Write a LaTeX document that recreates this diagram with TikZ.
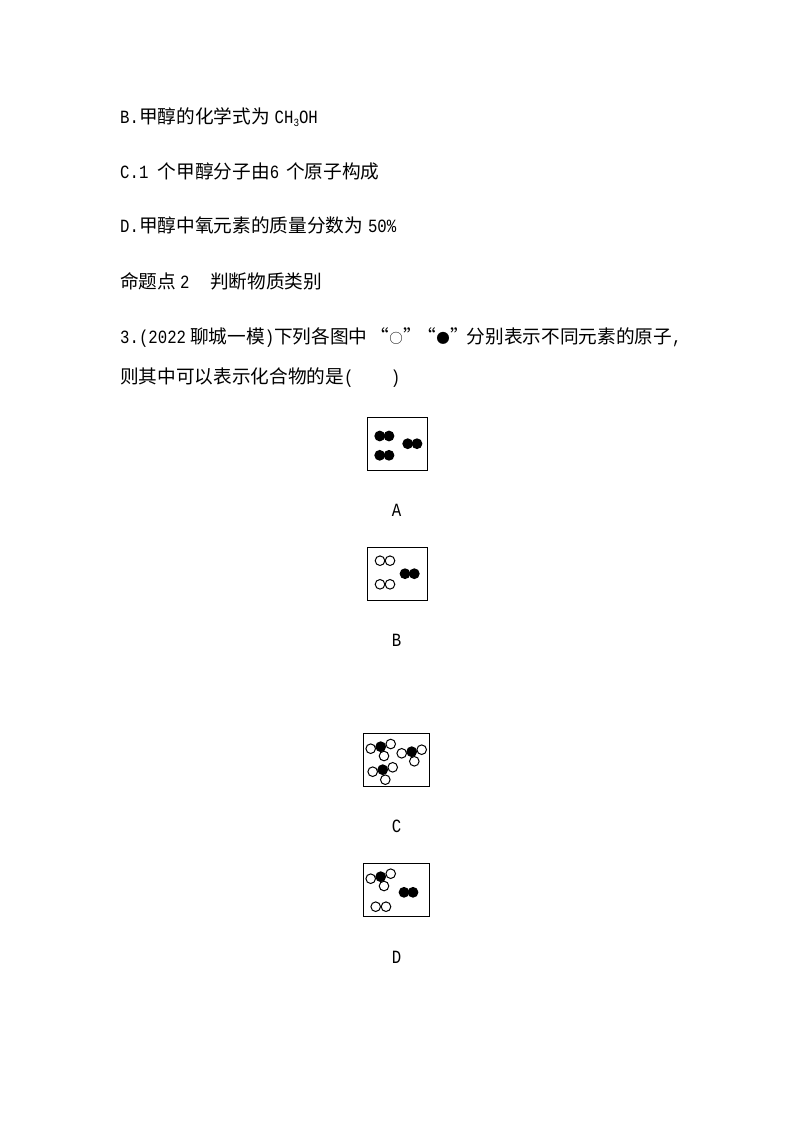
\documentclass[tikz,border=0pt]{standalone}
\usepackage{fontspec}
\setmainfont{Liberation Mono}[FakeStretch=0.84]
\newfontfamily\cjk{Noto Sans CJK SC}[Scale=1.0]
\newcommand{\zh}[1]{{\cjk #1}}
\newcommand{\subthree}{\raisebox{-2.5pt}{\fontsize{11}{11}\selectfont 3}}
\newcommand{\smallsign}[1]{\makebox[14pt]{\fontsize{13.5}{14}\cjk #1}}
\tikzset{
  textline/.style={anchor=base west,inner sep=0pt,font=\fontsize{18.67}{22}\selectfont},
  optlabel/.style={anchor=base,inner sep=0pt,font=\fontsize{18.67}{22}\selectfont},
  panel/.style={draw,line width=0.8pt,minimum height=53pt,inner sep=0pt},
  whiteatom/.style={circle,draw,fill=white,line width=1pt,minimum size=9.6pt,inner sep=0pt},
  blackatom/.style={circle,fill=black,minimum size=10.8pt,inner sep=0pt}
}
\begin{document}
\begin{tikzpicture}[x=1pt,y=-1pt]
\useasboundingbox (0,0) rectangle (794,1123);
% text lines
\node [textline] (lineB) at (120,124) {B.\zh{甲醇的化学式为}\hspace{5pt}CH\subthree OH};
\node [textline] (lineC) at (120,178.5) {C.1 \zh{个甲醇分子由}6\hspace{7pt}\zh{个原子构成}};
\node [textline] (lineD) at (120,233) {D.\zh{甲醇中氧元素的质量分数为}\hspace{5pt}50\%};
\node [textline] (lineHead) at (120,288) {\zh{命题点}\hspace{4pt}2\hspace{2pt}\zh{　判断物质类别}};
\node [textline] (lineQ) at (120,343) {3.(2022\hspace{4pt}\zh{聊城一模})\zh{下列各图中}\hspace{3pt}\zh{“}\smallsign{○}\zh{”}\hspace{-4.5pt}\zh{“}\smallsign{●}\zh{”}\hspace{-2pt}\zh{分别表示不同元素的原子},};
\node [textline] (lineQb) at (120,383) {\zh{则其中可以表示化合物的是}(\zh{　　})};
% panel A
\node [panel,minimum width=60pt] (boxA) at (397.3,443.8) {};
\node [blackatom] (a1) at (379.7,436) {};
\node [blackatom] (a2) at (389,436) {};
\node [blackatom] (a3) at (379.7,455.3) {};
\node [blackatom] (a4) at (389,455.3) {};
\node [blackatom] (a5) at (407.7,443.7) {};
\node [blackatom] (a6) at (417,443.7) {};
\node [optlabel] (labA) at (396.5,516) {A};
% panel B
\node [panel,minimum width=60pt] (boxB) at (397.3,573.8) {};
\node [whiteatom] (b1) at (380,560.7) {};
\node [whiteatom] (b2) at (390,560.7) {};
\node [whiteatom] (b3) at (380,584.3) {};
\node [whiteatom] (b4) at (390,584.3) {};
\node [blackatom] (b5) at (405,573.7) {};
\node [blackatom] (b6) at (414.3,573.7) {};
\node [optlabel] (labB) at (396.5,646) {B};
% panel C
\node [panel,minimum width=66.4pt] (boxC) at (396.5,759.8) {};
\node [whiteatom] (c1) at (370.7,748.7) {};
\node [whiteatom] (c2) at (390.7,744) {};
\node [whiteatom] (c3) at (384,756) {};
\node [blackatom] (c4) at (380.7,746.7) {};
\node [whiteatom] (c5) at (401.7,753.3) {};
\node [whiteatom] (c6) at (421.7,749.7) {};
\node [whiteatom] (c7) at (414.3,761.3) {};
\node [blackatom] (c8) at (411.7,751.7) {};
\node [whiteatom] (c9) at (372.7,771.7) {};
\node [whiteatom] (c10) at (392.7,767.3) {};
\node [whiteatom] (c11) at (385.3,779.7) {};
\node [blackatom] (c12) at (382.7,769.7) {};
\node [optlabel] (labC) at (396.5,832) {C};
% panel D
\node [panel,minimum width=66.4pt] (boxD) at (396.5,889.8) {};
\node [whiteatom] (d1) at (370.7,878.7) {};
\node [whiteatom] (d2) at (390.7,873.7) {};
\node [whiteatom] (d3) at (384,886) {};
\node [blackatom] (d4) at (380.7,876.7) {};
\node [blackatom] (d5) at (404,892.3) {};
\node [blackatom] (d6) at (413,892.3) {};
\node [whiteatom] (d7) at (375.7,906.7) {};
\node [whiteatom] (d8) at (386,906.7) {};
\node [optlabel] (labD) at (396.5,963) {D};
\end{tikzpicture}
\end{document}
